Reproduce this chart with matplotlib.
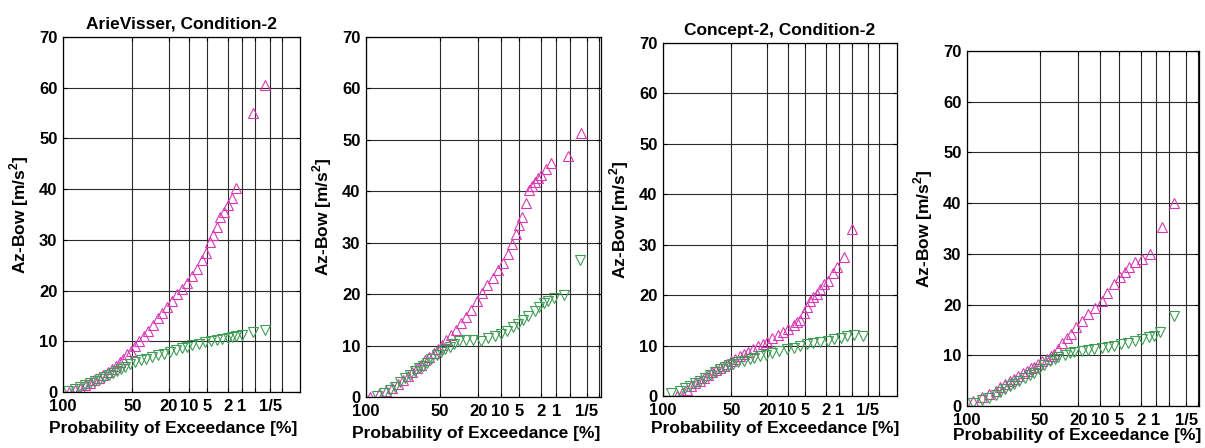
import numpy as np
import matplotlib
matplotlib.use("Agg")
import matplotlib.pyplot as plt
from matplotlib.ticker import NullLocator
from matplotlib.transforms import Bbox

plt.rcParams['font.family'] = ['Liberation Sans', 'DejaVu Sans']
plt.rcParams['font.weight'] = 'bold'
plt.rcParams['mathtext.fontset'] = 'custom'
plt.rcParams['mathtext.rm'] = 'Liberation Sans:bold'
plt.rcParams['mathtext.bf'] = 'Liberation Sans:bold'

# ---------------- data (exceedance probability in %, Az-Bow in m/s^2) ----------------
titles = ["ArieVisser, Condition-2", "", "Concept-2, Condition-2", ""]

p1_up_p = [99.5, 98, 96, 93, 90, 87, 83, 79, 75, 71, 67, 63, 59, 55, 51, 47, 43, 39, 35, 31, 27, 24, 21, 18,
           15.5, 13, 11, 9, 7.5, 6.2, 5.2, 4.4, 3.8, 3.3, 2.9, 2.4, 2.0, 1.6, 1.3, 0.53, 0.27]
p1_up_v = [0.0, 0.4, 0.8, 1.3, 1.8, 2.3, 2.8, 3.4, 4.0, 4.6, 5.2, 5.9, 6.6, 7.4, 8.1, 9.0, 10.0, 11.0, 12.0, 13.2,
           14.5, 15.5, 16.8, 18.0, 19.3, 20.4, 21.5, 22.8, 24.3, 26.0, 27.5, 29.5, 31.0, 32.5, 34.5, 35.5, 36.8,
           38.3, 40.2, 55.0, 60.5]
p1_dn_p = [99.7, 98, 96, 93, 90, 86, 82, 78, 74, 70, 66, 62, 57, 52, 47, 42, 37, 32, 27, 23, 19, 16, 13, 11, 9,
           7, 5.5, 4.3, 3.3, 2.6, 2.0, 1.6, 1.3, 1.0, 0.55, 0.28]
p1_dn_v = [0.2, 0.5, 0.9, 1.3, 1.7, 2.1, 2.5, 2.9, 3.3, 3.7, 4.1, 4.5, 5.0, 5.5, 5.9, 6.3, 6.6, 6.9, 7.2, 7.5, 7.9,
           8.3, 8.6, 8.9, 9.2, 9.5, 9.8, 10.0, 10.3, 10.5, 10.7, 10.9, 11.1, 11.3, 11.8, 12.3]

p2_up_p = [99.8, 98, 95, 92, 88, 84, 80, 76, 72, 68, 64, 60, 56, 52, 48, 44, 40, 36, 32, 28, 24.5, 21, 18, 15.5,
           13, 11, 9.2, 7.7, 6.6, 5.7, 5.1, 4.5, 3.8, 3.4, 3.0, 2.7, 2.3, 2.0, 1.6, 1.3, 0.57, 0.28]
p2_up_v = [0.0, 0.6, 1.2, 1.8, 2.6, 3.4, 4.1, 4.8, 5.6, 6.3, 7.1, 7.8, 8.5, 9.3, 10.1, 11.0, 12.0, 13.0, 14.3,
           15.6, 17.0, 18.7, 20.3, 21.7, 23.2, 24.6, 26.0, 27.8, 29.8, 31.7, 33.5, 35.0, 37.7, 40.3, 41.0, 41.8,
           42.5, 43.2, 44.3, 45.5, 46.9, 51.3]
p2_dn_p = [98.5, 96, 93, 90, 86, 82, 78, 74, 70, 66, 62, 58, 53, 49, 45, 41, 37, 33, 28, 23, 18.6, 15, 12, 9.8,
           8, 6.5, 5.3, 4.4, 3.5, 2.7, 2.2, 1.8, 1.5, 1.1, 0.67, 0.30]
p2_dn_v = [0.2, 0.8, 1.4, 2.0, 2.9, 3.6, 4.3, 5.0, 5.6, 6.1, 6.6, 7.3, 8.1, 8.7, 9.3, 9.8, 10.3, 10.8, 11.0, 11.0,
           10.9, 11.4, 11.8, 12.2, 12.9, 13.6, 14.2, 15.0, 15.8, 16.7, 17.5, 18.2, 18.7, 19.2, 19.8, 26.7]

p3_up_p = [97, 95, 92, 89, 86, 82, 78, 74, 70, 66, 62, 58, 54, 50, 46, 42, 38, 34, 30, 26, 22.5, 20, 17, 14,
           11.8, 9.8, 8.0, 6.9, 6.1, 5.2, 4.6, 4.0, 3.5, 3.0, 2.6, 2.2, 1.8, 1.4, 1.1, 0.8, 0.49]
p3_up_v = [0.0, 0.5, 1.2, 1.9, 2.5, 3.0, 3.6, 4.1, 4.7, 5.2, 5.6, 6.0, 6.3, 6.9, 7.4, 7.9, 8.3, 8.7, 9.3, 9.9,
           10.4, 10.7, 11.5, 12.1, 12.7, 13.3, 14.0, 14.6, 15.0, 16.5, 17.7, 18.8, 19.6, 20.2, 21.3, 22.2, 22.8,
           24.3, 25.6, 27.6, 33.1]
p3_dn_p = [99, 96, 93, 90, 86, 82, 77, 72, 67, 62, 57, 52, 48, 43, 38, 33, 29, 25, 21, 17, 13.5, 10.2, 8, 6.2,
           4.6, 3.5, 2.6, 1.8, 1.3, 0.9, 0.65, 0.45, 0.27]
p3_dn_v = [0.5, 1.0, 1.5, 2.0, 2.5, 3.0, 3.6, 4.2, 4.8, 5.3, 5.8, 6.1, 6.3, 6.7, 7.0, 7.4, 7.6, 7.9, 8.2, 8.6,
           8.9, 9.3, 9.6, 10.0, 10.3, 10.5, 10.7, 10.9, 11.3, 11.6, 11.9, 12.0, 11.9]

p4_up_p = [99.5, 97, 94, 90, 87, 83, 79, 75, 71, 67, 63, 59, 56, 52, 48, 44, 40.5, 37.5, 34, 31, 27.5, 24.6,
           21.5, 18, 15, 12, 9.6, 7.8, 6.0, 4.9, 4.0, 3.4, 2.6, 1.9, 1.3, 0.73, 0.39]
p4_up_v = [1.0, 1.7, 2.3, 3.0, 3.7, 4.3, 4.9, 5.4, 6.0, 6.5, 7.0, 7.4, 7.7, 8.3, 8.8, 9.3, 9.8, 10.2, 11.3, 12.4,
           13.4, 14.2, 15.5, 16.8, 18.1, 19.3, 20.7, 22.3, 24.0, 25.5, 26.5, 27.4, 28.3, 29.0, 30.0, 35.3, 40.0]
p4_dn_p = [99.5, 97, 94, 90, 87, 83, 79, 75, 70, 65, 60, 56, 51, 46, 41, 37, 34, 29, 25, 22.6, 18, 15, 12.2, 9.5,
           7.5, 6, 4.6, 3.5, 2.6, 1.9, 1.4, 1.1, 0.8, 0.39]
p4_dn_v = [0.5, 1.1, 1.6, 2.2, 2.8, 3.3, 3.9, 4.4, 5.0, 5.6, 6.1, 6.5, 7.2, 8.0, 8.8, 9.3, 9.7, 10.1, 10.4, 10.6,
           10.8, 11.0, 11.2, 11.4, 11.6, 11.8, 12.2, 12.5, 12.8, 13.2, 13.6, 13.9, 14.6, 17.8]

x_ticks = [100, 50, 20, 10, 5, 2, 1, 0.5, 0.2, 0.1]
x_ticklabels = ["100", "50", "20", "10", "5", "2", "1", "", "1/5", ""]
y_ticks = [0, 10, 20, 30, 40, 50, 60, 70]

panels = [
    (p1_up_p, p1_up_v, p1_dn_p, p1_dn_v),
    (p2_up_p, p2_up_v, p2_dn_p, p2_dn_v),
    (p3_up_p, p3_up_v, p3_dn_p, p3_dn_v),
    (p4_up_p, p4_up_v, p4_dn_p, p4_dn_v),
]

# ---------------- layout ----------------
W, H = 1205, 448
boxes = [(63, 56, 237, 355), (366, 51, 235, 360), (663, 52, 234, 353), (967, 42, 232, 355)]
x_right = [0.03, 0.089, 0.03, 0.094]
clip_right = [None, 601, None, None]
xlabel_pos = [(0.467, -0.082), (0.47, -0.08), (0.48, -0.072), (0.475, -0.062)]

MAG = '#d838b4'
GRN = '#3f9d55'


def fwd(p):
    # Rayleigh probability paper: increasing in p (0 at 100 %, negative below)
    p = np.asarray(p, dtype=float)
    q = np.clip(p / 100.0, 1e-12, 1.0)
    return -np.sqrt(-np.log(q))


def inv(x):
    x = np.asarray(x, dtype=float)
    x = np.minimum(x, 0.0)
    return 100.0 * np.exp(-x ** 2)


fig = plt.figure(figsize=(W / 100, H / 100), dpi=100)

for i, (up_p, up_v, dn_p, dn_v) in enumerate(panels):
    l, b, w, h = boxes[i]
    ax = fig.add_axes([l / W, b / H, w / W, h / H])
    ax.set_xscale('function', functions=(fwd, inv))
    ax.plot(up_p, up_v, linestyle='none', marker='^', markersize=7, markerfacecolor='none',
            markeredgecolor=MAG, markeredgewidth=0.8)
    ax.plot(dn_p, dn_v, linestyle='none', marker='v', markersize=7, markerfacecolor='none',
            markeredgecolor=GRN, markeredgewidth=0.8)
    ax.set_xlim(100, x_right[i])
    ax.set_ylim(0, 70)
    ax.set_xticks(x_ticks)
    ax.set_xticklabels(x_ticklabels)
    ax.xaxis.set_minor_locator(NullLocator())
    ax.set_yticks(y_ticks)
    ax.grid(True, color='#2a2a2a', linewidth=0.8, linestyle='-')
    ax.set_axisbelow(True)
    ax.tick_params(direction='in', length=3, width=0.8, top=True, right=True,
                   labelsize=12, colors='black')
    ax.tick_params(axis='x', pad=5)
    ax.tick_params(axis='y', pad=4)
    for t in ax.get_xticklabels() + ax.get_yticklabels():
        t.set_fontweight('bold')
    for s in ax.spines.values():
        s.set_color('black')
        s.set_linewidth(0.9)
    ax.set_ylabel('Az-Bow [m/s$^{2}$]', fontsize=12.5, fontweight='bold', labelpad=6)
    xl = ax.set_xlabel('Probability of Exceedance [%]', fontsize=12.5, fontweight='bold')
    ax.xaxis.set_label_coords(*xlabel_pos[i])
    if titles[i]:
        ax.set_title(titles[i], fontsize=12.5, fontweight='bold', pad=6)
    if clip_right[i] is not None:
        xl.set_clip_box(Bbox([[0, 0], [clip_right[i], H]]))
        xl.set_clip_on(True)

fig.savefig('out.png', dpi=100, facecolor='white')
